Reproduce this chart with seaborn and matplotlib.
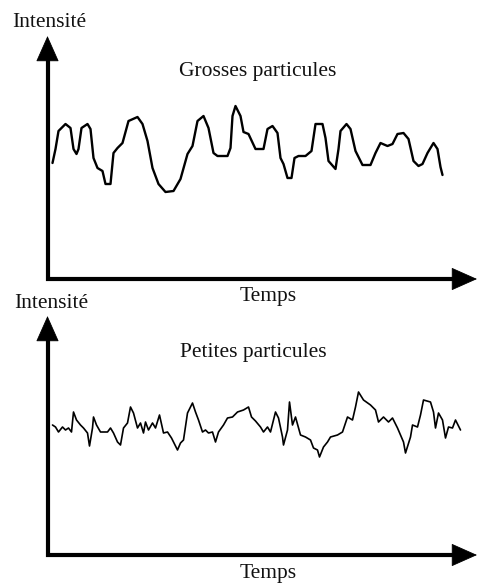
import matplotlib
matplotlib.use("Agg")
import matplotlib.pyplot as plt
import seaborn as sns
import pandas as pd

# ---- data ----
temps_grosses = [5, 8, 11, 18, 23, 26, 29, 31, 34, 40, 43, 46, 50, 55, 58, 63, 66, 70, 75, 81,
                 90, 95, 100, 105, 111, 118, 126, 133, 140, 145, 150, 156, 161, 166, 170, 180, 183, 185, 188, 193,
                 196, 201, 208, 216, 220, 225, 230, 233, 236, 240, 244, 247, 251, 258, 264, 268, 275, 278, 281, 288,
                 291, 293, 299, 303, 308, 315, 323, 328, 333, 340, 345, 350, 356, 361, 366, 371, 375, 380, 386, 390,
                 393, 395]
intensite_grosses = [116, 130, 148, 155, 151, 130, 125, 130, 151, 155, 150, 121, 111, 108, 95, 95, 126, 131, 136, 158,
                     162, 155, 138, 111, 95, 87, 88, 100, 125, 133, 158, 163, 151, 126, 123, 123, 131, 163, 173, 163,
                     147, 145, 130, 130, 150, 153, 146, 121, 115, 101, 101, 121, 123, 123, 128, 155, 155, 141, 118, 110,
                     130, 148, 155, 150, 128, 114, 114, 126, 136, 133, 135, 145, 146, 140, 118, 113, 115, 126, 136, 130,
                     112, 104]

temps_petites = [5, 8, 11, 15, 18, 21, 24, 26, 29, 33, 36, 40, 42, 45, 46, 49, 53, 60, 63, 66,
                 70, 73, 76, 80, 83, 86, 90, 93, 96, 98, 101, 105, 108, 112, 116, 120, 124, 126, 130, 133,
                 136, 140, 145, 148, 151, 155, 158, 161, 165, 168, 171, 176, 180, 185, 190, 196, 201, 204, 208, 213,
                 216, 220, 223, 228, 231, 235, 236, 240, 242, 245, 248, 253, 258, 263, 266, 270, 272, 276, 280, 283,
                 290, 295, 300, 305, 308, 311, 316, 323, 328, 331, 336, 341, 345, 350, 353, 356, 358, 363, 365, 370,
                 373, 376, 383, 386, 388, 391, 395, 398, 401, 405, 408, 413]
intensite_petites = [130, 128, 123, 128, 125, 127, 123, 143, 135, 130, 127, 122, 109, 127, 138, 130, 123, 123, 127, 122,
                     113, 110, 127, 132, 148, 142, 127, 132, 122, 133, 125, 132, 127, 140, 122, 123, 117, 113, 105, 112,
                     115, 142, 152, 143, 135, 123, 125, 122, 123, 113, 123, 130, 137, 138, 143, 145, 148, 138, 134, 128,
                     123, 128, 123, 143, 137, 118, 110, 125, 153, 130, 138, 120, 118, 115, 107, 105, 98, 108, 113, 118,
                     120, 123, 138, 135, 148, 163, 155, 150, 145, 133, 138, 133, 137, 127, 120, 113, 102, 118, 130, 128,
                     140, 155, 153, 143, 127, 142, 135, 117, 128, 127, 135, 125]

titres = ["Grosses particules", "Petites particules"]
label_y = "Intensité"
label_x = "Temps"

# ---- figure ----
sns.set_style("white")
plt.rcParams["font.family"] = ["Liberation Serif", "DejaVu Serif"]

W, H = 478, 584
fig = plt.figure(figsize=(W / 100, H / 100), dpi=100)
fig.patch.set_facecolor("white")
txt_color = "#111111"


def fx(px):
    return px / W


def fy(py):
    return 1 - py / H


panels = [
    dict(origin=(47.5, 279), top=36, t=temps_grosses, v=intensite_grosses, lw=1.7,
         title=(258, 76), ylab=(49, 27), xlab=(268, 301)),
    dict(origin=(47.5, 555), top=316, t=temps_petites, v=intensite_petites, lw=1.2,
         title=(253, 357), ylab=(51, 308), xlab=(268, 578)),
]

for p, titre in zip(panels, titres):
    ox, oy = p["origin"]
    right = 477
    width = right - ox
    height = oy - p["top"]
    ax = fig.add_axes([fx(ox), fy(oy), fx(width), height / H])
    ax.set_xlim(0, width)
    ax.set_ylim(0, height)
    ax.patch.set_alpha(0)
    for s in ax.spines.values():
        s.set_visible(False)
    ax.set_xticks([])
    ax.set_yticks([])

    df = pd.DataFrame({"t": p["t"], "v": p["v"]})
    sns.lineplot(data=df, x="t", y="v", ax=ax, color="black", lw=p["lw"],
                 estimator=None, sort=False)
    ax.set_xlabel("")
    ax.set_ylabel("")

    # L-shaped axes
    ax.plot([0, 0, 0.965], [0.93, 0, 0], transform=ax.transAxes, clip_on=False,
            color="black", lw=3.0, solid_joinstyle="miter", solid_capstyle="butt")
    head = dict(arrowstyle="-|>,head_length=0.9,head_width=0.4", lw=0.6, color="black",
                mutation_scale=19, shrinkA=0, shrinkB=0)
    ax.annotate("", xy=(1, 0), xytext=(0.95, 0), xycoords="axes fraction",
                textcoords="axes fraction", arrowprops=head, annotation_clip=False)
    ax.annotate("", xy=(0, 1), xytext=(0, 0.9), xycoords="axes fraction",
                textcoords="axes fraction", arrowprops=head, annotation_clip=False)

    fig.text(fx(p["title"][0]), fy(p["title"][1]), titre, ha="center", va="baseline",
             fontsize=15.5, color=txt_color)
    fig.text(fx(p["ylab"][0]), fy(p["ylab"][1]), label_y, ha="center", va="baseline",
             fontsize=15.5, color=txt_color)
    fig.text(fx(p["xlab"][0]), fy(p["xlab"][1]), label_x, ha="center", va="baseline",
             fontsize=15.5, color=txt_color)

fig.savefig("out.png", dpi=100, facecolor="white")
